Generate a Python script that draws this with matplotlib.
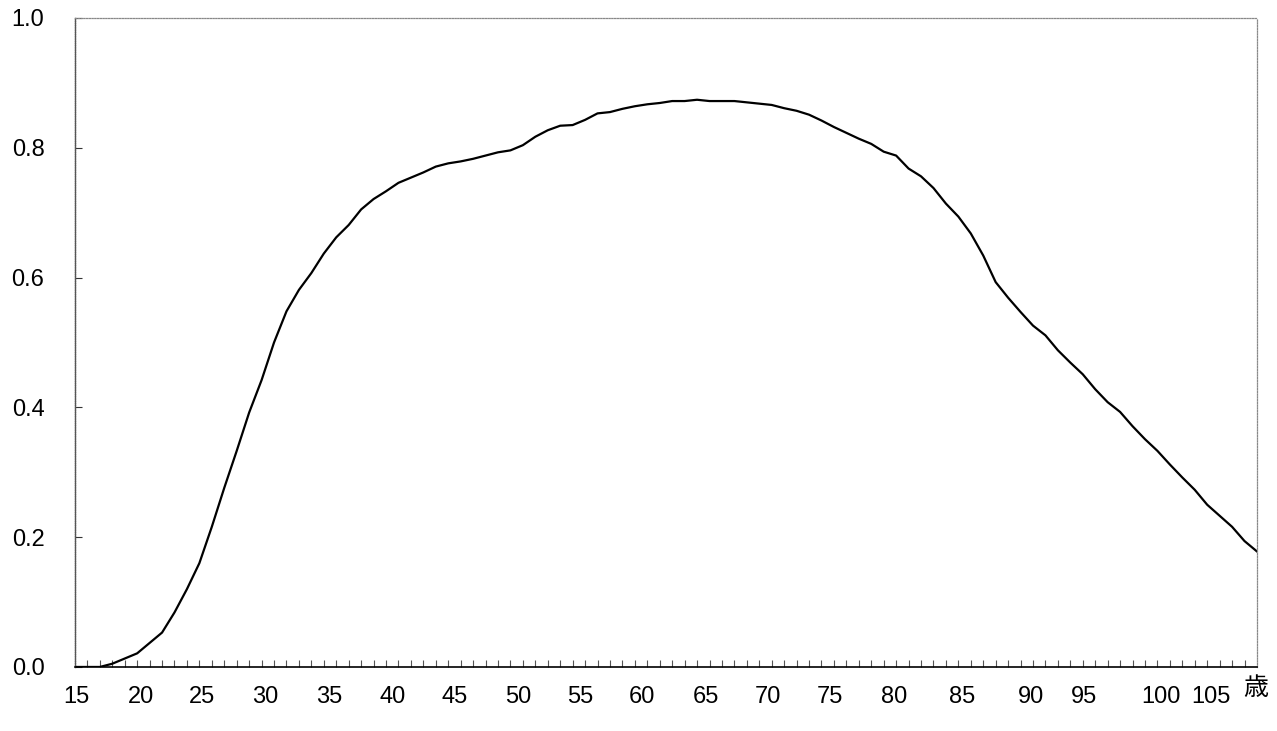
import matplotlib.pyplot as plt
import matplotlib.transforms as mtransforms

# ages and values
ages = list(range(15, 111))
values = [
    0.000, 0.000, 0.000, 0.005, 0.013, 0.021, 0.037, 0.053, 0.084, 0.120,  # 15-24
    0.160, 0.216, 0.276, 0.333, 0.392, 0.442, 0.500, 0.548, 0.581, 0.607,  # 25-34
    0.637, 0.662, 0.681, 0.705, 0.721, 0.733, 0.746, 0.754, 0.762, 0.771,  # 35-44
    0.776, 0.779, 0.783, 0.788, 0.793, 0.796, 0.804, 0.817, 0.827, 0.834,  # 45-54
    0.835, 0.843, 0.853, 0.855, 0.860, 0.864, 0.867, 0.869, 0.872, 0.872,  # 55-64
    0.874, 0.872, 0.872, 0.872, 0.870, 0.868, 0.866, 0.861, 0.857, 0.851,  # 65-74
    0.842, 0.832, 0.823, 0.814, 0.806, 0.794, 0.788, 0.768, 0.756, 0.738,  # 75-84
    0.714, 0.694, 0.668, 0.634, 0.593, 0.569, 0.547, 0.526, 0.511, 0.488,  # 85-94
    0.469, 0.451, 0.428, 0.408, 0.393, 0.371, 0.351, 0.333, 0.312, 0.292,  # 95-104
    0.273, 0.250, 0.233, 0.216, 0.194, 0.178,                              # 105-110
]

tick_labels = ["15", "20", "25", "30", "35", "40", "45", "50", "55", "60",
               "65", "70", "75", "80", "85", "90", "95", "100", "105"]
# where the reference prints each label along the age axis
label_pos = [15.1, 20.3, 25.2, 30.3, 35.4, 40.5, 45.5, 50.6, 55.6, 60.6,
             65.7, 70.7, 75.7, 80.8, 86.3, 91.8, 96.1, 102.3, 106.3]
unit = "歳"

plt.rcParams["font.family"] = ["Liberation Sans", "DejaVu Sans"]

fig = plt.figure(figsize=(12.77, 7.31), dpi=100)
ax = fig.add_axes([0.0587, 0.0876, 0.9256, 0.8878])

ax.plot(ages, values, color="black", linewidth=1.6)

ax.set_xlim(15, 110)
ax.set_ylim(0, 1.0)

# spines: solid bottom, dotted grey elsewhere
ax.spines["bottom"].set_color("black")
ax.spines["bottom"].set_linewidth(1.2)
ax.spines["left"].set_color("#555555")
ax.spines["left"].set_linewidth(1.0)
ax.spines["left"].set_linestyle((0, (1, 0.6)))
for s in ["top", "right"]:
    ax.spines[s].set_color("#888888")
    ax.spines[s].set_linewidth(0.9)
    ax.spines[s].set_linestyle((0, (1, 1.2)))

# y axis
ax.set_yticks([0.0, 0.2, 0.4, 0.6, 0.8, 1.0])
ax.set_yticklabels(["0.0", "0.2", "0.4", "0.6", "0.8", "1.0"])
ax.tick_params(axis="y", direction="in", length=5, width=0.8,
               color="#333333", labelsize=17, pad=22)

# x axis: a small inward tick every year, labels placed separately
ax.set_xticks(range(16, 110), minor=True)
ax.set_xticks(label_pos)
ax.set_xticklabels(tick_labels)
ax.tick_params(axis="x", which="major", length=0, labelsize=17, pad=14)
ax.tick_params(axis="x", which="minor", direction="in", length=5,
               width=0.8, color="#555555")

trans = mtransforms.blended_transform_factory(ax.transData, ax.transAxes)
ax.text(109.9, -0.033, unit, transform=trans, ha="center", va="center",
        fontsize=18, family=["Noto Sans CJK JP", "DejaVu Sans"])

fig.savefig("out.png", dpi=100)
